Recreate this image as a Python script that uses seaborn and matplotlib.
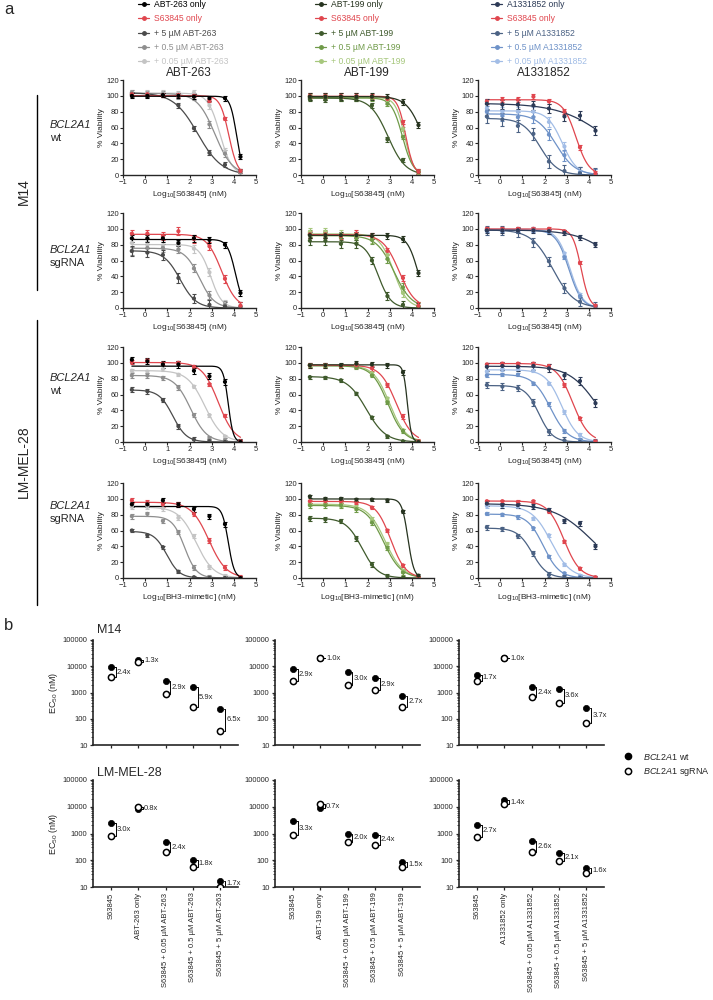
import numpy as np
import matplotlib
matplotlib.use("Agg")
import matplotlib.pyplot as plt
from matplotlib.lines import Line2D
from matplotlib.ticker import LogLocator, NullFormatter
import seaborn as sns

sns.set_style("ticks")
plt.rcParams['font.family'] = ['Liberation Sans', 'DejaVu Sans']
plt.rcParams['mathtext.fontset'] = 'custom'
plt.rcParams['mathtext.rm'] = 'Liberation Sans'
plt.rcParams['mathtext.it'] = 'Liberation Sans:italic'

# ---------------- panel a data ----------------
# log10 dose of S63845 (nM)
DOSES = [-0.6, 0.1, 0.8, 1.5, 2.2, 2.9, 3.6, 4.3]

# rows in every block: drug only, S63845 only, +5 uM, +0.5 uM, +0.05 uM  (% viability)
M14_WT_263 = [[100, 100, 101, 100, 99, 97, 97, 23],
              [102, 102, 101, 101, 100, 94, 71, 5],
              [102, 101, 101, 88, 59, 28, 13, 5],
              [104, 102, 102, 100, 99, 64, 27, 3],
              [104, 103, 103, 102, 104, 88, 30, 4]]
M14_WT_199 = [[99, 99, 99, 99, 99, 98, 92, 63],
              [100, 100, 100, 100, 99, 96, 67, 4],
              [96, 95, 97, 97, 88, 45, 19, 4],
              [98, 98, 97, 97, 97, 90, 48, 3],
              [99, 99, 98, 98, 98, 93, 58, 3]]
M14_WT_A133 = [[90, 89, 89, 88, 84, 74, 75, 56],
               [93, 95, 95, 99, 93, 80, 35, 2],
               [74, 70, 62, 52, 17, 5, 2, 1],
               [80, 75, 73, 73, 51, 25, 3, 1],
               [84, 80, 80, 80, 67, 36, 4, 1]]
M14_SG_263 = [[88, 88, 88, 82, 88, 86, 80, 19],
              [94, 94, 91, 97, 87, 78, 37, 3],
              [72, 70, 67, 38, 12, 4, 2, 1],
              [72, 76, 76, 74, 50, 16, 4, 2],
              [82, 80, 79, 80, 75, 45, 5, 2]]
M14_SG_199 = [[92, 92, 92, 92, 91, 91, 87, 44],
              [93, 93, 91, 94, 91, 72, 38, 3],
              [85, 85, 81, 81, 60, 15, 4, 1],
              [93, 93, 89, 88, 86, 62, 26, 2],
              [96, 96, 93, 91, 87, 67, 19, 2]]
M14_SG_A133 = [[98, 98, 98, 98, 97, 95, 89, 80],
               [100, 100, 100, 100, 100, 97, 57, 3],
               [98, 98, 96, 83, 59, 25, 8, 2],
               [98, 98, 98, 98, 96, 64, 15, 2],
               [99, 99, 99, 100, 97, 69, 17, 2]]
LM_WT_263 = [[104, 102, 98, 98, 90, 83, 76, 0],
             [101, 103, 99, 100, 95, 73, 33, 1],
             [66, 64, 53, 20, 3, 1, 0, 0],
             [84, 84, 81, 69, 34, 5, 2, 0],
             [90, 89, 92, 85, 70, 34, 7, 0]]
LM_WT_199 = [[97, 97, 97, 99, 98, 97, 88, 0],
             [97, 97, 96, 97, 93, 72, 32, 1],
             [82, 81, 78, 61, 31, 7, 1, 0],
             [97, 97, 95, 94, 84, 50, 14, 1],
             [97, 97, 96, 96, 87, 55, 15, 1]]
LM_WT_A133 = [[95, 96, 95, 96, 93, 84, 77, 49],
              [98, 99, 99, 99, 96, 72, 30, 1],
              [72, 70, 68, 50, 13, 2, 0, 0],
              [84, 85, 85, 74, 48, 14, 3, 0],
              [89, 92, 92, 90, 74, 38, 9, 0]]
LM_SG_263 = [[93, 93, 98, 93, 87, 78, 68, 0],
             [98, 95, 93, 93, 81, 47, 13, 1],
             [60, 54, 39, 8, 1, 0, 0, 0],
             [78, 81, 72, 58, 13, 1, 0, 0],
             [90, 90, 88, 76, 53, 14, 2, 0]]
LM_SG_199 = [[103, 100, 100, 99, 99, 98, 84, 3],
             [97, 97, 97, 95, 89, 60, 16, 1],
             [75, 74, 72, 50, 17, 2, 0, 0],
             [92, 92, 92, 87, 70, 38, 7, 0],
             [94, 94, 93, 89, 74, 43, 9, 0]]
LM_SG_A133 = [[94, 92, 92, 90, 86, 72, 69, 40],
              [97, 97, 96, 97, 84, 46, 12, 1],
              [64, 62, 53, 31, 4, 1, 0, 0],
              [81, 80, 77, 63, 27, 6, 1, 0],
              [91, 91, 90, 75, 54, 17, 3, 0]]

# rough SEM per series (same order)
SEM_M14_WT = [[3, 2, 3, 4, 4], [4, 3, 3, 3, 3], [6, 3, 8, 7, 6]]
SEM_M14_SG = [[4, 5, 6, 5, 5], [4, 4, 5, 5, 5], [3, 2, 6, 2, 2]]
SEM_LM_WT = [[4, 2, 3, 3, 2], [3, 3, 2, 2, 2], [5, 2, 4, 2, 2]]
SEM_LM_SG = [[3, 3, 2, 3, 3], [2, 2, 3, 3, 3], [3, 2, 3, 2, 2]]

DRUGS = ["ABT-263", "ABT-199", "A1331852"]
PANELS = [[M14_WT_263, M14_WT_199, M14_WT_A133],
          [M14_SG_263, M14_SG_199, M14_SG_A133],
          [LM_WT_263, LM_WT_199, LM_WT_A133],
          [LM_SG_263, LM_SG_199, LM_SG_A133]]
SEMS = [SEM_M14_WT, SEM_M14_SG, SEM_LM_WT, SEM_LM_SG]

COLORS = [["#000000", "#e0464e", "#4a4a4a", "#8e8e8e", "#c4c4c4"],
          ["#26331f", "#e0464e", "#3f5a2c", "#6f9a48", "#a6c77c"],
          ["#2c3a56", "#e0464e", "#4b6284", "#6e92c8", "#a2bde6"]]

# ---------------- panel b data (EC50, nM) ----------------
CATS_263 = ["S63845", "ABT-263 only", "S63845 + 0.05 µM ABT-263",
            "S63845 + 0.5 µM ABT-263", "S63845 + 5 µM ABT-263"]
CATS_199 = ["S63845", "ABT-199 only", "S63845 + 0.05 µM ABT-199",
            "S63845 + 0.5 µM ABT-199", "S63845 + 5 µM ABT-199"]
CATS_A133 = ["S63845", "A1331852 only", "S63845 + 0.05 µM A1331852",
             "S63845 + 0.5 µM A1331852", "S63845 + 5 µM A1331852"]

M14_EC50_WT = [[9000, 18000, 2650, 1600, 230],
               [8000, 20000, 5800, 3500, 740],
               [4800, 20000, 1600, 1400, 250]]
M14_EC50_SG = [[3750, 14000, 910, 270, 35],
               [2800, 20000, 1900, 1220, 270],
               [2800, 20000, 660, 390, 68]]
M14_FOLD = [["2.4x", "1.3x", "2.9x", "5.9x", "6.5x"],
            ["2.9x", "1.0x", "3.0x", "2.9x", "2.7x"],
            ["1.7x", "1.0x", "2.4x", "3.6x", "3.7x"]]
LM_EC50_WT = [[2450, 8000, 480, 105, 17],
              [2900, 8700, 1000, 890, 87],
              [2050, 17500, 540, 190, 53]]
LM_EC50_SG = [[820, 10000, 200, 58, 10],
              [880, 12500, 500, 370, 58],
              [760, 12500, 208, 90, 33]]
LM_FOLD = [["3.0x", "0.8x", "2.4x", "1.8x", "1.7x"],
           ["3.3x", "0.7x", "2.0x", "2.4x", "1.5x"],
           ["2.7x", "1.4x", "2.6x", "2.1x", "1.6x"]]


def fit_curve(y):
    # 3-parameter logistic (bottom fixed at 0), brute-force least squares
    x = np.asarray(DOSES)
    y = np.asarray(y, float)
    cs = np.linspace(-1.5, 6, 301)
    hs = np.linspace(0.3, 5, 48)
    C, H = np.meshgrid(cs, hs)
    S = 1.0 / (1.0 + 10 ** ((x[None, None, :] - C[..., None]) * H[..., None]))
    top = (S * y).sum(-1) / (S * S).sum(-1)
    sse = ((top[..., None] * S - y) ** 2).sum(-1)
    i = np.unravel_index(np.argmin(sse), sse.shape)
    return top[i], C[i], H[i]


fig = plt.figure(figsize=(7.13, 10), dpi=100)


def px_axes(left, top, w, h):
    return fig.add_axes([left / 713, 1 - (top + h) / 1000, w / 713, h / 1000])


def fy(y):
    return 1 - y / 1000


def fx(x):
    return x / 713


# ---------- panel a ----------
A_LEFT = [123, 301, 478]
A_TOP = [80, 213, 347, 483]
xs_fit = np.linspace(-0.6, 4.3, 200)

for r in range(4):
    for c in range(3):
        ax = px_axes(A_LEFT[c], A_TOP[r], 133, 95)
        series = PANELS[r][c]
        for k in [4, 3, 2, 1, 0]:
            y = series[k]
            col = COLORS[c][k]
            top, ec, hill = fit_curve(y)
            sns.lineplot(x=xs_fit, y=top / (1 + 10 ** ((xs_fit - ec) * hill)),
                         color=col, lw=0.9, ax=ax)
            ax.errorbar(DOSES, y, yerr=SEMS[r][c][k], fmt='none', ecolor=col,
                        elinewidth=0.8, capsize=1.5, capthick=0.8)
            sns.scatterplot(x=DOSES, y=y, color=col, s=9, edgecolor='none', ax=ax, zorder=3)
        ax.set_xlim(-1, 5)
        ax.set_ylim(0, 120)
        ax.set_xticks(range(-1, 6))
        ax.set_yticks(range(0, 121, 20))
        ax.tick_params(labelsize=5.5, length=2, width=0.8, pad=1)
        for s in ['left', 'bottom']:
            ax.spines[s].set_linewidth(1.0)
        sns.despine(ax=ax)
        ax.set_ylabel("% Viability", fontsize=6, labelpad=1)
        xl = "Log$_{10}$[BH3-mimetic] (nM)" if r == 3 else "Log$_{10}$[S63845] (nM)"
        ax.set_xlabel(xl, fontsize=6, labelpad=2)

# header legends
LEG_X = [138, 315, 491]
for c in range(3):
    d = DRUGS[c]
    labels = [d + " only", "S63845 only", "+ 5 µM " + d, "+ 0.5 µM " + d, "+ 0.05 µM " + d]
    handles = [Line2D([], [], color=COLORS[c][k], marker='o', ms=2.5, lw=0.9) for k in range(5)]
    fig.legend(handles, labels, loc='upper left', bbox_to_anchor=(fx(LEG_X[c]), fy(0)),
               frameon=False, fontsize=6.2, labelcolor=COLORS[c], labelspacing=0.62,
               handlelength=1.3, handletextpad=0.6, borderpad=0, borderaxespad=0)
    fig.text(fx(A_LEFT[c] + 66), fy(73), d, ha='center', va='center', fontsize=8.5)

fig.text(0.006, fy(9), "a", fontsize=12, va='center')
fig.text(0.006, fy(625), "b", fontsize=12, va='center')

# row labels
for name, ymid, y0, y1 in [("M14", 192, 95, 290), ("LM-MEL-28", 462, 320, 605)]:
    fig.text(fx(24), fy(ymid), name, rotation=90, ha='center', va='center', fontsize=10)
    fig.add_artist(Line2D([fx(37), fx(37)], [fy(y0), fy(y1)], color='black', lw=1.0))
for ytxt, sub in [(125, "wt"), (250, "sgRNA"), (378, "wt"), (506, "sgRNA")]:
    fig.text(fx(50), fy(ytxt), "BCL2A1", style='italic', fontsize=8, va='center')
    fig.text(fx(50), fy(ytxt + 13), sub, fontsize=8, va='center')

# ---------- panel b ----------
B_LEFT = [93, 275, 459]
B_TOP = [640, 780]
B_H = [105, 107]
CATS = [CATS_263, CATS_199, CATS_A133]
B_WT = [M14_EC50_WT, LM_EC50_WT]
B_SG = [M14_EC50_SG, LM_EC50_SG]
B_FOLD = [M14_FOLD, LM_FOLD]

for r in range(2):
    for c in range(3):
        ax = px_axes(B_LEFT[c], B_TOP[r], 145, B_H[r])
        pos = np.arange(5)
        wt = B_WT[r][c]
        sg = B_SG[r][c]
        sns.scatterplot(x=pos, y=wt, color='black', s=20, edgecolor='black', linewidth=0.5,
                        ax=ax, zorder=3)
        sns.scatterplot(x=pos, y=sg, color='white', s=20, edgecolor='black', linewidth=1.1,
                        ax=ax, zorder=4)
        for i in range(5):
            hi, lo = max(wt[i], sg[i]), min(wt[i], sg[i])
            bx = i + 0.18
            ax.plot([bx - 0.06, bx, bx, bx - 0.06], [hi, hi, lo, lo], color='black', lw=0.7)
            ax.text(bx + 0.04, np.sqrt(hi * lo), B_FOLD[r][c][i], fontsize=5.5,
                    ha='left', va='center')
        ax.set_yscale('log')
        ax.set_ylim(10, 100000)
        ax.set_xlim(-0.65, 4.65)
        ax.set_yticks([10, 100, 1000, 10000, 100000])
        ax.set_yticklabels(["10", "100", "1000", "10000", "100000"])
        ax.yaxis.set_minor_locator(LogLocator(base=10, subs=np.arange(2, 10), numticks=20))
        ax.yaxis.set_minor_formatter(NullFormatter())
        ax.set_xticks(pos)
        if r == 1:
            ax.set_xticklabels(CATS[c], rotation=90, fontsize=6.3)
        else:
            ax.set_xticklabels([])
        ax.tick_params(axis='both', which='major', labelsize=5.5, length=2.5, width=0.9, pad=1.5)
        ax.tick_params(axis='y', which='minor', length=1.5, width=0.6)
        for s in ['left', 'bottom']:
            ax.spines[s].set_linewidth(1.2)
        sns.despine(ax=ax)
        if c == 0:
            ax.set_ylabel("EC$_{50}$ (nM)", fontsize=6.5, labelpad=2)

fig.text(fx(97), fy(630), "M14", fontsize=9, va='center')
fig.text(fx(97), fy(773), "LM-MEL-28", fontsize=9, va='center')

# panel b legend
fig.add_artist(Line2D([fx(628)], [fy(756)], marker='o', ms=4.5, color='black', lw=0))
fig.add_artist(Line2D([fx(628)], [fy(771)], marker='o', ms=4.5, mfc='white', mec='black',
                      mew=1.1, lw=0))
fig.text(fx(643), fy(756), "$\\mathit{BCL2A1}$ wt", fontsize=6.5, va='center')
fig.text(fx(643), fy(771), "$\\mathit{BCL2A1}$ sgRNA", fontsize=6.5, va='center')

fig.savefig("out.png", dpi=100)
